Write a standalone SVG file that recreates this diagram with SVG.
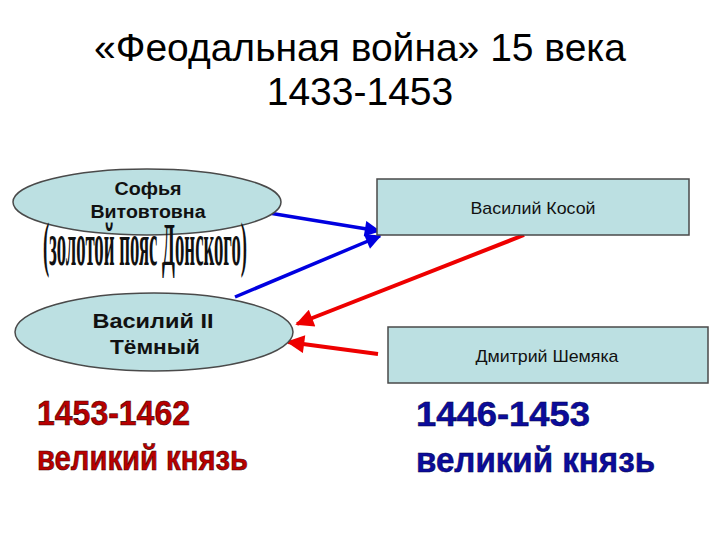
<svg xmlns="http://www.w3.org/2000/svg" width="720" height="540" viewBox="0 0 720 540">
<style>
.title{font-family:"Liberation Sans",Arial,sans-serif;font-size:39px;fill:#000;text-anchor:middle}
.node{fill:#bce0e2;stroke:#4a4a4a;stroke-width:1.5}
.bl{font-family:"Liberation Sans",Arial,sans-serif;font-weight:bold;fill:#111;text-anchor:middle}
.rl{font-family:"Liberation Sans",Arial,sans-serif;font-size:17px;fill:#111;text-anchor:middle}
.red{font-family:"Liberation Sans",Arial,sans-serif;font-weight:bold;font-size:35px;fill:#b80000;stroke:#3a0000;stroke-width:0.6}
.blue{font-family:"Liberation Sans",Arial,sans-serif;font-weight:bold;font-size:35px;fill:#0c0c9c;stroke:#000040;stroke-width:0.5}
</style>
<defs>
<marker id="ab" viewBox="0 0 10 10" refX="9" refY="5" markerWidth="5.5" markerHeight="4.5" orient="auto" markerUnits="strokeWidth"><path d="M0,0 L10,5 L0,10 z" fill="#0000e0"/></marker>
<marker id="ar" viewBox="0 0 10 10" refX="9" refY="5" markerWidth="5.5" markerHeight="4.5" orient="auto" markerUnits="strokeWidth"><path d="M0,0 L10,5 L0,10 z" fill="#ee0000"/></marker>
</defs>
<text class="title" x="360" y="61">«Феодальная война» 15 века</text>
<text class="title" x="360" y="105">1433-1453</text>
<g id="connectors">
<line x1="269" y1="213" x2="379" y2="231" stroke="#0000e0" stroke-width="3.5" marker-end="url(#ab)"/>
<line x1="235" y1="297" x2="380" y2="236" stroke="#0000e0" stroke-width="3.5" marker-end="url(#ab)"/>
<line x1="524" y1="235" x2="297" y2="324" stroke="#ee0000" stroke-width="4" marker-end="url(#ar)"/>
<line x1="378" y1="354" x2="288" y2="342" stroke="#ee0000" stroke-width="4" marker-end="url(#ar)"/>
</g>
<g id="sofya">
<ellipse class="node" cx="147" cy="202" rx="134" ry="33"/>
<text class="bl" x="148" y="195" font-size="18" textLength="67" lengthAdjust="spacingAndGlyphs">Софья</text>
<text class="bl" x="148" y="218" font-size="18" textLength="115" lengthAdjust="spacingAndGlyphs">Витовтовна</text>
</g>
<g id="belt" transform="translate(145,265) scale(1,2.1)">
<text x="0" y="0" font-family="'Liberation Sans Narrow','Liberation Serif',serif" font-weight="bold" font-size="29" text-anchor="middle" textLength="204" lengthAdjust="spacingAndGlyphs" fill="#111">(золотой пояс Донского)</text>
</g>
<g id="vasily2">
<ellipse class="node" cx="154" cy="332" rx="139" ry="39"/>
<text class="bl" x="153" y="328" font-size="21" textLength="121" lengthAdjust="spacingAndGlyphs">Василий II</text>
<text class="bl" x="155" y="354" font-size="21" textLength="90" lengthAdjust="spacingAndGlyphs">Тёмный</text>
</g>
<g id="kosoy">
<rect class="node" x="377" y="179" width="312" height="56"/>
<text class="rl" x="533" y="214" textLength="125" lengthAdjust="spacingAndGlyphs">Василий Косой</text>
</g>
<g id="shemyaka">
<rect class="node" x="388" y="327" width="320" height="56"/>
<text class="rl" x="547" y="362" textLength="143" lengthAdjust="spacingAndGlyphs">Дмитрий Шемяка</text>
</g>
<text class="red" x="37" y="425" textLength="153" lengthAdjust="spacingAndGlyphs">1453-1462</text>
<text class="red" x="37" y="470" textLength="211" lengthAdjust="spacingAndGlyphs">великий князь</text>
<text class="blue" x="416" y="426" textLength="174" lengthAdjust="spacingAndGlyphs">1446-1453</text>
<text class="blue" x="416" y="472" textLength="239" lengthAdjust="spacingAndGlyphs">великий князь</text>
</svg>
